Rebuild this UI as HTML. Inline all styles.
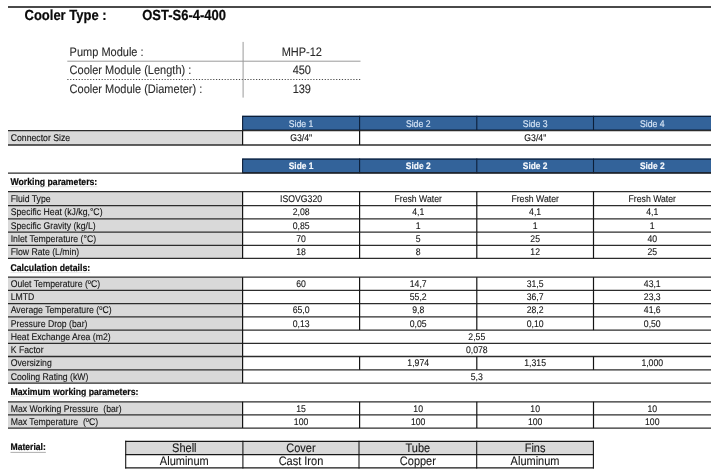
<!DOCTYPE html>
<html><head><meta charset="utf-8"><title>Cooler Type OST-S6-4-400</title>
<style>
html,body{margin:0;padding:0;background:#fff;}
body{width:720px;height:473px;overflow:hidden;font-family:"Liberation Sans", sans-serif;}
svg{display:block;font-family:"Liberation Sans", sans-serif;filter:blur(0.3px);}
text{white-space:pre;text-rendering:geometricPrecision;}
</style></head>
<body>
<svg width="720" height="473" viewBox="0 0 720 473">
<rect x="8.00" y="6.00" width="703.00" height="2.00" fill="#4a4a4a"/>
<text transform="translate(24.50 19.60) scale(1 1.12)" font-size="13" font-weight="bold" fill="#0a0a0a" stroke="#0a0a0a" stroke-width="0.2">Cooler Type :</text>
<text transform="translate(142.20 19.60) scale(1 1.12)" font-size="13" font-weight="bold" fill="#0a0a0a" stroke="#0a0a0a" stroke-width="0.2">OST-S6-4-400</text>
<text transform="translate(69.60 55.80) scale(1 1.12)" font-size="11" fill="#2a2a2a" stroke="#2a2a2a" stroke-width="0.1">Pump Module :</text>
<text transform="translate(69.60 74.20) scale(1 1.12)" font-size="11" fill="#2a2a2a" stroke="#2a2a2a" stroke-width="0.1">Cooler Module (Length) :</text>
<text transform="translate(69.60 92.60) scale(1 1.12)" font-size="11" fill="#2a2a2a" stroke="#2a2a2a" stroke-width="0.1">Cooler Module (Diameter) :</text>
<text transform="translate(301.80 55.80) scale(1 1.12)" font-size="11" text-anchor="middle" fill="#2a2a2a" stroke="#2a2a2a" stroke-width="0.1">MHP-12</text>
<text transform="translate(301.80 74.20) scale(1 1.12)" font-size="11" text-anchor="middle" fill="#2a2a2a" stroke="#2a2a2a" stroke-width="0.1">450</text>
<text transform="translate(301.80 92.60) scale(1 1.12)" font-size="11" text-anchor="middle" fill="#2a2a2a" stroke="#2a2a2a" stroke-width="0.1">139</text>
<line x1="67.30" y1="61.20" x2="360.50" y2="61.20" stroke="#9a9a9a" stroke-width="1" />
<line x1="67.30" y1="79.50" x2="360.50" y2="79.50" stroke="#4a4a4a" stroke-width="1" stroke-dasharray="1.2 1.66"/>
<line x1="243.10" y1="41.90" x2="243.10" y2="97.60" stroke="#9a9a9a" stroke-width="1" />
<rect x="242.60" y="115.80" width="468.40" height="14.80" fill="#33639a"/>
<line x1="242.60" y1="116.40" x2="711.00" y2="116.40" stroke="#0c1e38" stroke-width="1.2" />
<line x1="242.60" y1="130.00" x2="711.00" y2="130.00" stroke="#0c1e38" stroke-width="1.2" />
<line x1="242.60" y1="115.80" x2="242.60" y2="130.60" stroke="#0c1e38" stroke-width="1.1" />
<line x1="359.60" y1="115.80" x2="359.60" y2="130.60" stroke="#0c1e38" stroke-width="1.1" />
<line x1="476.80" y1="115.80" x2="476.80" y2="130.60" stroke="#0c1e38" stroke-width="1.1" />
<line x1="593.50" y1="115.80" x2="593.50" y2="130.60" stroke="#0c1e38" stroke-width="1.1" />
<text transform="translate(301.10 126.50) scale(1 1.12)" font-size="8.7" text-anchor="middle" fill="#d8e6f6" stroke="#d8e6f6" stroke-width="0.12">Side 1</text>
<text transform="translate(418.20 126.50) scale(1 1.12)" font-size="8.7" text-anchor="middle" fill="#d8e6f6" stroke="#d8e6f6" stroke-width="0.12">Side 2</text>
<text transform="translate(535.15 126.50) scale(1 1.12)" font-size="8.7" text-anchor="middle" fill="#d8e6f6" stroke="#d8e6f6" stroke-width="0.12">Side 3</text>
<text transform="translate(652.25 126.50) scale(1 1.12)" font-size="8.7" text-anchor="middle" fill="#d8e6f6" stroke="#d8e6f6" stroke-width="0.12">Side 4</text>
<rect x="8.00" y="130.60" width="234.60" height="14.40" fill="#d9d9d9"/>
<line x1="8.00" y1="130.60" x2="711.00" y2="130.60" stroke="#2c2c2c" stroke-width="1.3" />
<line x1="8.00" y1="145.00" x2="711.00" y2="145.00" stroke="#2c2c2c" stroke-width="1.3" />
<line x1="242.60" y1="130.60" x2="242.60" y2="145.00" stroke="#141414" stroke-width="1.2" />
<line x1="359.60" y1="130.60" x2="359.60" y2="145.00" stroke="#141414" stroke-width="1.2" />
<text transform="translate(10.70 141.00) scale(1 1.12)" font-size="8.7" fill="#111" stroke="#111" stroke-width="0.1">Connector Size</text>
<text transform="translate(301.10 141.00) scale(1 1.12)" font-size="8.7" text-anchor="middle" fill="#111" stroke="#111" stroke-width="0.1">G3/4"</text>
<text transform="translate(535.30 141.00) scale(1 1.12)" font-size="8.7" text-anchor="middle" fill="#111" stroke="#111" stroke-width="0.1">G3/4"</text>
<rect x="242.60" y="158.60" width="468.40" height="14.70" fill="#33639a"/>
<line x1="242.60" y1="159.20" x2="711.00" y2="159.20" stroke="#0c1e38" stroke-width="1.2" />
<line x1="242.60" y1="172.70" x2="711.00" y2="172.70" stroke="#0c1e38" stroke-width="1.2" />
<line x1="242.60" y1="158.60" x2="242.60" y2="173.30" stroke="#0c1e38" stroke-width="1.1" />
<line x1="359.60" y1="158.60" x2="359.60" y2="173.30" stroke="#0c1e38" stroke-width="1.1" />
<line x1="476.80" y1="158.60" x2="476.80" y2="173.30" stroke="#0c1e38" stroke-width="1.1" />
<line x1="593.50" y1="158.60" x2="593.50" y2="173.30" stroke="#0c1e38" stroke-width="1.1" />
<text transform="translate(301.10 169.00) scale(1 1.12)" font-size="8.4" text-anchor="middle" font-weight="bold" fill="#f6f9fd" stroke="#f6f9fd" stroke-width="0.15">Side 1</text>
<text transform="translate(418.20 169.00) scale(1 1.12)" font-size="8.4" text-anchor="middle" font-weight="bold" fill="#f6f9fd" stroke="#f6f9fd" stroke-width="0.15">Side 2</text>
<text transform="translate(535.15 169.00) scale(1 1.12)" font-size="8.4" text-anchor="middle" font-weight="bold" fill="#f6f9fd" stroke="#f6f9fd" stroke-width="0.15">Side 2</text>
<text transform="translate(652.25 169.00) scale(1 1.12)" font-size="8.4" text-anchor="middle" font-weight="bold" fill="#f6f9fd" stroke="#f6f9fd" stroke-width="0.15">Side 2</text>
<text transform="translate(10.50 184.90) scale(1 1.12)" font-size="8.7" font-weight="bold" fill="#0a0a0a" stroke="#0a0a0a" stroke-width="0.18">Working parameters:</text>
<line x1="10.50" y1="186.70" x2="97.37" y2="186.70" stroke="#d4d4d4" stroke-width="0.6" />
<rect x="8.00" y="191.60" width="234.60" height="14.00" fill="#d9d9d9"/>
<text transform="translate(10.70 201.70) scale(1 1.12)" font-size="8.7" fill="#151515" stroke="#151515" stroke-width="0.1">Fluid Type</text>
<text transform="translate(301.10 201.70) scale(1 1.12)" font-size="8.7" text-anchor="middle" fill="#151515" stroke="#151515" stroke-width="0.1">ISOVG320</text>
<text transform="translate(418.20 201.70) scale(1 1.12)" font-size="8.7" text-anchor="middle" fill="#151515" stroke="#151515" stroke-width="0.1">Fresh Water</text>
<text transform="translate(535.15 201.70) scale(1 1.12)" font-size="8.7" text-anchor="middle" fill="#151515" stroke="#151515" stroke-width="0.1">Fresh Water</text>
<text transform="translate(652.25 201.70) scale(1 1.12)" font-size="8.7" text-anchor="middle" fill="#151515" stroke="#151515" stroke-width="0.1">Fresh Water</text>
<rect x="8.00" y="205.60" width="234.60" height="13.20" fill="#d9d9d9"/>
<text transform="translate(10.70 215.30) scale(1 1.12)" font-size="8.7" fill="#151515" stroke="#151515" stroke-width="0.1">Specific Heat (kJ/kg,°C)</text>
<text transform="translate(301.10 215.30) scale(1 1.12)" font-size="8.7" text-anchor="middle" fill="#151515" stroke="#151515" stroke-width="0.1">2,08</text>
<text transform="translate(418.20 215.30) scale(1 1.12)" font-size="8.7" text-anchor="middle" fill="#151515" stroke="#151515" stroke-width="0.1">4,1</text>
<text transform="translate(535.15 215.30) scale(1 1.12)" font-size="8.7" text-anchor="middle" fill="#151515" stroke="#151515" stroke-width="0.1">4,1</text>
<text transform="translate(652.25 215.30) scale(1 1.12)" font-size="8.7" text-anchor="middle" fill="#151515" stroke="#151515" stroke-width="0.1">4,1</text>
<rect x="8.00" y="218.80" width="234.60" height="13.40" fill="#d9d9d9"/>
<text transform="translate(10.70 228.50) scale(1 1.12)" font-size="8.7" fill="#151515" stroke="#151515" stroke-width="0.1">Specific Gravity (kg/L)</text>
<text transform="translate(301.10 228.50) scale(1 1.12)" font-size="8.7" text-anchor="middle" fill="#151515" stroke="#151515" stroke-width="0.1">0,85</text>
<text transform="translate(418.20 228.50) scale(1 1.12)" font-size="8.7" text-anchor="middle" fill="#151515" stroke="#151515" stroke-width="0.1">1</text>
<text transform="translate(535.15 228.50) scale(1 1.12)" font-size="8.7" text-anchor="middle" fill="#151515" stroke="#151515" stroke-width="0.1">1</text>
<text transform="translate(652.25 228.50) scale(1 1.12)" font-size="8.7" text-anchor="middle" fill="#151515" stroke="#151515" stroke-width="0.1">1</text>
<rect x="8.00" y="232.20" width="234.60" height="13.10" fill="#d9d9d9"/>
<text transform="translate(10.70 241.90) scale(1 1.12)" font-size="8.7" fill="#151515" stroke="#151515" stroke-width="0.1">Inlet Temperature (°C)</text>
<text transform="translate(301.10 241.90) scale(1 1.12)" font-size="8.7" text-anchor="middle" fill="#151515" stroke="#151515" stroke-width="0.1">70</text>
<text transform="translate(418.20 241.90) scale(1 1.12)" font-size="8.7" text-anchor="middle" fill="#151515" stroke="#151515" stroke-width="0.1">5</text>
<text transform="translate(535.15 241.90) scale(1 1.12)" font-size="8.7" text-anchor="middle" fill="#151515" stroke="#151515" stroke-width="0.1">25</text>
<text transform="translate(652.25 241.90) scale(1 1.12)" font-size="8.7" text-anchor="middle" fill="#151515" stroke="#151515" stroke-width="0.1">40</text>
<rect x="8.00" y="245.30" width="234.60" height="13.10" fill="#d9d9d9"/>
<text transform="translate(10.70 255.00) scale(1 1.12)" font-size="8.7" fill="#151515" stroke="#151515" stroke-width="0.1">Flow Rate (L/min)</text>
<text transform="translate(301.10 255.00) scale(1 1.12)" font-size="8.7" text-anchor="middle" fill="#151515" stroke="#151515" stroke-width="0.1">18</text>
<text transform="translate(418.20 255.00) scale(1 1.12)" font-size="8.7" text-anchor="middle" fill="#151515" stroke="#151515" stroke-width="0.1">8</text>
<text transform="translate(535.15 255.00) scale(1 1.12)" font-size="8.7" text-anchor="middle" fill="#151515" stroke="#151515" stroke-width="0.1">12</text>
<text transform="translate(652.25 255.00) scale(1 1.12)" font-size="8.7" text-anchor="middle" fill="#151515" stroke="#151515" stroke-width="0.1">25</text>
<text transform="translate(10.50 270.80) scale(1 1.12)" font-size="8.7" font-weight="bold" fill="#0a0a0a" stroke="#0a0a0a" stroke-width="0.18">Calculation details:</text>
<line x1="10.50" y1="272.60" x2="90.27" y2="272.60" stroke="#d4d4d4" stroke-width="0.6" />
<rect x="8.00" y="277.20" width="234.60" height="13.10" fill="#d9d9d9"/>
<text transform="translate(10.70 286.90) scale(1 1.12)" font-size="8.7" fill="#151515" stroke="#151515" stroke-width="0.1">Oulet Temperature (ºC)</text>
<text transform="translate(301.10 286.90) scale(1 1.12)" font-size="8.7" text-anchor="middle" fill="#151515" stroke="#151515" stroke-width="0.1">60</text>
<text transform="translate(418.20 286.90) scale(1 1.12)" font-size="8.7" text-anchor="middle" fill="#151515" stroke="#151515" stroke-width="0.1">14,7</text>
<text transform="translate(535.15 286.90) scale(1 1.12)" font-size="8.7" text-anchor="middle" fill="#151515" stroke="#151515" stroke-width="0.1">31,5</text>
<text transform="translate(652.25 286.90) scale(1 1.12)" font-size="8.7" text-anchor="middle" fill="#151515" stroke="#151515" stroke-width="0.1">43,1</text>
<rect x="8.00" y="290.30" width="234.60" height="13.30" fill="#d9d9d9"/>
<text transform="translate(10.70 300.00) scale(1 1.12)" font-size="8.7" fill="#151515" stroke="#151515" stroke-width="0.1">LMTD</text>
<text transform="translate(418.20 300.00) scale(1 1.12)" font-size="8.7" text-anchor="middle" fill="#151515" stroke="#151515" stroke-width="0.1">55,2</text>
<text transform="translate(535.15 300.00) scale(1 1.12)" font-size="8.7" text-anchor="middle" fill="#151515" stroke="#151515" stroke-width="0.1">36,7</text>
<text transform="translate(652.25 300.00) scale(1 1.12)" font-size="8.7" text-anchor="middle" fill="#151515" stroke="#151515" stroke-width="0.1">23,3</text>
<rect x="8.00" y="303.60" width="234.60" height="13.30" fill="#d9d9d9"/>
<text transform="translate(10.70 313.30) scale(1 1.12)" font-size="8.7" fill="#151515" stroke="#151515" stroke-width="0.1">Average Temperature (ºC)</text>
<text transform="translate(301.10 313.30) scale(1 1.12)" font-size="8.7" text-anchor="middle" fill="#151515" stroke="#151515" stroke-width="0.1">65,0</text>
<text transform="translate(418.20 313.30) scale(1 1.12)" font-size="8.7" text-anchor="middle" fill="#151515" stroke="#151515" stroke-width="0.1">9,8</text>
<text transform="translate(535.15 313.30) scale(1 1.12)" font-size="8.7" text-anchor="middle" fill="#151515" stroke="#151515" stroke-width="0.1">28,2</text>
<text transform="translate(652.25 313.30) scale(1 1.12)" font-size="8.7" text-anchor="middle" fill="#151515" stroke="#151515" stroke-width="0.1">41,6</text>
<rect x="8.00" y="316.90" width="234.60" height="13.20" fill="#d9d9d9"/>
<text transform="translate(10.70 326.60) scale(1 1.12)" font-size="8.7" fill="#151515" stroke="#151515" stroke-width="0.1">Pressure Drop (bar)</text>
<text transform="translate(301.10 326.60) scale(1 1.12)" font-size="8.7" text-anchor="middle" fill="#151515" stroke="#151515" stroke-width="0.1">0,13</text>
<text transform="translate(418.20 326.60) scale(1 1.12)" font-size="8.7" text-anchor="middle" fill="#151515" stroke="#151515" stroke-width="0.1">0,05</text>
<text transform="translate(535.15 326.60) scale(1 1.12)" font-size="8.7" text-anchor="middle" fill="#151515" stroke="#151515" stroke-width="0.1">0,10</text>
<text transform="translate(652.25 326.60) scale(1 1.12)" font-size="8.7" text-anchor="middle" fill="#151515" stroke="#151515" stroke-width="0.1">0,50</text>
<rect x="8.00" y="330.10" width="234.60" height="13.30" fill="#d9d9d9"/>
<text transform="translate(10.70 339.80) scale(1 1.12)" font-size="8.7" fill="#151515" stroke="#151515" stroke-width="0.1">Heat Exchange Area (m2)</text>
<text transform="translate(476.80 339.80) scale(1 1.12)" font-size="8.7" text-anchor="middle" fill="#151515" stroke="#151515" stroke-width="0.1">2,55</text>
<rect x="8.00" y="343.40" width="234.60" height="13.10" fill="#d9d9d9"/>
<text transform="translate(10.70 353.10) scale(1 1.12)" font-size="8.7" fill="#151515" stroke="#151515" stroke-width="0.1">K Factor</text>
<text transform="translate(476.80 353.10) scale(1 1.12)" font-size="8.7" text-anchor="middle" fill="#151515" stroke="#151515" stroke-width="0.1">0,078</text>
<rect x="8.00" y="356.50" width="234.60" height="13.30" fill="#d9d9d9"/>
<text transform="translate(10.70 366.20) scale(1 1.12)" font-size="8.7" fill="#151515" stroke="#151515" stroke-width="0.1">Oversizing</text>
<text transform="translate(418.20 366.20) scale(1 1.12)" font-size="8.7" text-anchor="middle" fill="#151515" stroke="#151515" stroke-width="0.1">1,974</text>
<text transform="translate(535.15 366.20) scale(1 1.12)" font-size="8.7" text-anchor="middle" fill="#151515" stroke="#151515" stroke-width="0.1">1,315</text>
<text transform="translate(652.25 366.20) scale(1 1.12)" font-size="8.7" text-anchor="middle" fill="#151515" stroke="#151515" stroke-width="0.1">1,000</text>
<rect x="8.00" y="369.80" width="234.60" height="13.30" fill="#d9d9d9"/>
<text transform="translate(10.70 379.50) scale(1 1.12)" font-size="8.7" fill="#151515" stroke="#151515" stroke-width="0.1">Cooling Rating (kW)</text>
<text transform="translate(476.80 379.50) scale(1 1.12)" font-size="8.7" text-anchor="middle" fill="#151515" stroke="#151515" stroke-width="0.1">5,3</text>
<text transform="translate(10.50 394.80) scale(1 1.12)" font-size="8.7" font-weight="bold" fill="#0a0a0a" stroke="#0a0a0a" stroke-width="0.18">Maximum working parameters:</text>
<line x1="10.50" y1="396.60" x2="138.62" y2="396.60" stroke="#d4d4d4" stroke-width="0.6" />
<rect x="8.00" y="401.80" width="234.60" height="13.00" fill="#d9d9d9"/>
<text transform="translate(10.70 411.50) scale(1 1.12)" font-size="8.7" fill="#151515" stroke="#151515" stroke-width="0.1">Max Working Pressure  (bar)</text>
<text transform="translate(301.10 411.50) scale(1 1.12)" font-size="8.7" text-anchor="middle" fill="#151515" stroke="#151515" stroke-width="0.1">15</text>
<text transform="translate(418.20 411.50) scale(1 1.12)" font-size="8.7" text-anchor="middle" fill="#151515" stroke="#151515" stroke-width="0.1">10</text>
<text transform="translate(535.15 411.50) scale(1 1.12)" font-size="8.7" text-anchor="middle" fill="#151515" stroke="#151515" stroke-width="0.1">10</text>
<text transform="translate(652.25 411.50) scale(1 1.12)" font-size="8.7" text-anchor="middle" fill="#151515" stroke="#151515" stroke-width="0.1">10</text>
<rect x="8.00" y="414.80" width="234.60" height="13.30" fill="#d9d9d9"/>
<text transform="translate(10.70 424.50) scale(1 1.12)" font-size="8.7" fill="#151515" stroke="#151515" stroke-width="0.1">Max Temperature  (ºC)</text>
<text transform="translate(301.10 424.50) scale(1 1.12)" font-size="8.7" text-anchor="middle" fill="#151515" stroke="#151515" stroke-width="0.1">100</text>
<text transform="translate(418.20 424.50) scale(1 1.12)" font-size="8.7" text-anchor="middle" fill="#151515" stroke="#151515" stroke-width="0.1">100</text>
<text transform="translate(535.15 424.50) scale(1 1.12)" font-size="8.7" text-anchor="middle" fill="#151515" stroke="#151515" stroke-width="0.1">100</text>
<text transform="translate(652.25 424.50) scale(1 1.12)" font-size="8.7" text-anchor="middle" fill="#151515" stroke="#151515" stroke-width="0.1">100</text>
<line x1="8.00" y1="173.20" x2="711.00" y2="173.20" stroke="#2c2c2c" stroke-width="1.3" />
<line x1="8.00" y1="191.60" x2="711.00" y2="191.60" stroke="#2c2c2c" stroke-width="1.3" />
<line x1="8.00" y1="205.60" x2="711.00" y2="205.60" stroke="#2c2c2c" stroke-width="1.3" />
<line x1="8.00" y1="218.80" x2="711.00" y2="218.80" stroke="#2c2c2c" stroke-width="1.3" />
<line x1="8.00" y1="232.20" x2="711.00" y2="232.20" stroke="#2c2c2c" stroke-width="1.3" />
<line x1="8.00" y1="245.30" x2="711.00" y2="245.30" stroke="#2c2c2c" stroke-width="1.3" />
<line x1="8.00" y1="258.40" x2="711.00" y2="258.40" stroke="#2c2c2c" stroke-width="1.3" />
<line x1="8.00" y1="277.20" x2="711.00" y2="277.20" stroke="#2c2c2c" stroke-width="1.3" />
<line x1="8.00" y1="290.30" x2="711.00" y2="290.30" stroke="#2c2c2c" stroke-width="1.3" />
<line x1="8.00" y1="303.60" x2="711.00" y2="303.60" stroke="#2c2c2c" stroke-width="1.3" />
<line x1="8.00" y1="316.90" x2="711.00" y2="316.90" stroke="#2c2c2c" stroke-width="1.3" />
<line x1="8.00" y1="330.10" x2="711.00" y2="330.10" stroke="#2c2c2c" stroke-width="1.3" />
<line x1="8.00" y1="343.40" x2="711.00" y2="343.40" stroke="#2c2c2c" stroke-width="1.3" />
<line x1="8.00" y1="356.50" x2="711.00" y2="356.50" stroke="#2c2c2c" stroke-width="1.3" />
<line x1="8.00" y1="369.80" x2="711.00" y2="369.80" stroke="#2c2c2c" stroke-width="1.3" />
<line x1="8.00" y1="383.10" x2="711.00" y2="383.10" stroke="#2c2c2c" stroke-width="1.3" />
<line x1="8.00" y1="401.80" x2="711.00" y2="401.80" stroke="#2c2c2c" stroke-width="1.3" />
<line x1="8.00" y1="414.80" x2="711.00" y2="414.80" stroke="#2c2c2c" stroke-width="1.3" />
<line x1="8.00" y1="428.10" x2="711.00" y2="428.10" stroke="#2c2c2c" stroke-width="1.3" />
<line x1="242.60" y1="191.60" x2="242.60" y2="205.60" stroke="#141414" stroke-width="1.2" />
<line x1="359.60" y1="191.60" x2="359.60" y2="205.60" stroke="#141414" stroke-width="1.2" />
<line x1="476.80" y1="191.60" x2="476.80" y2="205.60" stroke="#141414" stroke-width="1.2" />
<line x1="593.50" y1="191.60" x2="593.50" y2="205.60" stroke="#141414" stroke-width="1.2" />
<line x1="242.60" y1="205.60" x2="242.60" y2="218.80" stroke="#141414" stroke-width="1.2" />
<line x1="359.60" y1="205.60" x2="359.60" y2="218.80" stroke="#141414" stroke-width="1.2" />
<line x1="476.80" y1="205.60" x2="476.80" y2="218.80" stroke="#141414" stroke-width="1.2" />
<line x1="593.50" y1="205.60" x2="593.50" y2="218.80" stroke="#141414" stroke-width="1.2" />
<line x1="242.60" y1="218.80" x2="242.60" y2="232.20" stroke="#141414" stroke-width="1.2" />
<line x1="359.60" y1="218.80" x2="359.60" y2="232.20" stroke="#141414" stroke-width="1.2" />
<line x1="476.80" y1="218.80" x2="476.80" y2="232.20" stroke="#141414" stroke-width="1.2" />
<line x1="593.50" y1="218.80" x2="593.50" y2="232.20" stroke="#141414" stroke-width="1.2" />
<line x1="242.60" y1="232.20" x2="242.60" y2="245.30" stroke="#141414" stroke-width="1.2" />
<line x1="359.60" y1="232.20" x2="359.60" y2="245.30" stroke="#141414" stroke-width="1.2" />
<line x1="476.80" y1="232.20" x2="476.80" y2="245.30" stroke="#141414" stroke-width="1.2" />
<line x1="593.50" y1="232.20" x2="593.50" y2="245.30" stroke="#141414" stroke-width="1.2" />
<line x1="242.60" y1="245.30" x2="242.60" y2="258.40" stroke="#141414" stroke-width="1.2" />
<line x1="359.60" y1="245.30" x2="359.60" y2="258.40" stroke="#141414" stroke-width="1.2" />
<line x1="476.80" y1="245.30" x2="476.80" y2="258.40" stroke="#141414" stroke-width="1.2" />
<line x1="593.50" y1="245.30" x2="593.50" y2="258.40" stroke="#141414" stroke-width="1.2" />
<line x1="242.60" y1="277.20" x2="242.60" y2="290.30" stroke="#141414" stroke-width="1.2" />
<line x1="359.60" y1="277.20" x2="359.60" y2="290.30" stroke="#141414" stroke-width="1.2" />
<line x1="476.80" y1="277.20" x2="476.80" y2="290.30" stroke="#141414" stroke-width="1.2" />
<line x1="593.50" y1="277.20" x2="593.50" y2="290.30" stroke="#141414" stroke-width="1.2" />
<line x1="242.60" y1="290.30" x2="242.60" y2="303.60" stroke="#141414" stroke-width="1.2" />
<line x1="359.60" y1="290.30" x2="359.60" y2="303.60" stroke="#141414" stroke-width="1.2" />
<line x1="476.80" y1="290.30" x2="476.80" y2="303.60" stroke="#141414" stroke-width="1.2" />
<line x1="593.50" y1="290.30" x2="593.50" y2="303.60" stroke="#141414" stroke-width="1.2" />
<line x1="242.60" y1="303.60" x2="242.60" y2="316.90" stroke="#141414" stroke-width="1.2" />
<line x1="359.60" y1="303.60" x2="359.60" y2="316.90" stroke="#141414" stroke-width="1.2" />
<line x1="476.80" y1="303.60" x2="476.80" y2="316.90" stroke="#141414" stroke-width="1.2" />
<line x1="593.50" y1="303.60" x2="593.50" y2="316.90" stroke="#141414" stroke-width="1.2" />
<line x1="242.60" y1="316.90" x2="242.60" y2="330.10" stroke="#141414" stroke-width="1.2" />
<line x1="359.60" y1="316.90" x2="359.60" y2="330.10" stroke="#141414" stroke-width="1.2" />
<line x1="476.80" y1="316.90" x2="476.80" y2="330.10" stroke="#141414" stroke-width="1.2" />
<line x1="593.50" y1="316.90" x2="593.50" y2="330.10" stroke="#141414" stroke-width="1.2" />
<line x1="242.60" y1="330.10" x2="242.60" y2="343.40" stroke="#141414" stroke-width="1.2" />
<line x1="242.60" y1="343.40" x2="242.60" y2="356.50" stroke="#141414" stroke-width="1.2" />
<line x1="242.60" y1="356.50" x2="242.60" y2="369.80" stroke="#141414" stroke-width="1.2" />
<line x1="359.60" y1="356.50" x2="359.60" y2="369.80" stroke="#141414" stroke-width="1.2" />
<line x1="476.80" y1="356.50" x2="476.80" y2="369.80" stroke="#141414" stroke-width="1.2" />
<line x1="593.50" y1="356.50" x2="593.50" y2="369.80" stroke="#141414" stroke-width="1.2" />
<line x1="242.60" y1="369.80" x2="242.60" y2="383.10" stroke="#141414" stroke-width="1.2" />
<line x1="242.60" y1="401.80" x2="242.60" y2="414.80" stroke="#141414" stroke-width="1.2" />
<line x1="359.60" y1="401.80" x2="359.60" y2="414.80" stroke="#141414" stroke-width="1.2" />
<line x1="476.80" y1="401.80" x2="476.80" y2="414.80" stroke="#141414" stroke-width="1.2" />
<line x1="593.50" y1="401.80" x2="593.50" y2="414.80" stroke="#141414" stroke-width="1.2" />
<line x1="242.60" y1="414.80" x2="242.60" y2="428.10" stroke="#141414" stroke-width="1.2" />
<line x1="359.60" y1="414.80" x2="359.60" y2="428.10" stroke="#141414" stroke-width="1.2" />
<line x1="476.80" y1="414.80" x2="476.80" y2="428.10" stroke="#141414" stroke-width="1.2" />
<line x1="593.50" y1="414.80" x2="593.50" y2="428.10" stroke="#141414" stroke-width="1.2" />
<text transform="translate(10.50 450.40) scale(1 1.12)" font-size="8.6" font-weight="bold" fill="#0a0a0a" stroke="#0a0a0a" stroke-width="0.18">Material:</text>
<line x1="10.50" y1="452.40" x2="45.87" y2="452.40" stroke="#777" stroke-width="0.6" />
<rect x="125.70" y="441.40" width="467.70" height="13.30" fill="#d9d9d9"/>
<line x1="125.20" y1="441.40" x2="593.90" y2="441.40" stroke="#181818" stroke-width="1.2" />
<line x1="125.20" y1="454.70" x2="593.90" y2="454.70" stroke="#181818" stroke-width="1.2" />
<line x1="125.20" y1="467.80" x2="593.90" y2="467.80" stroke="#181818" stroke-width="1.2" />
<line x1="125.70" y1="440.80" x2="125.70" y2="468.40" stroke="#181818" stroke-width="1.1" />
<line x1="242.90" y1="440.80" x2="242.90" y2="468.40" stroke="#181818" stroke-width="1.1" />
<line x1="359.00" y1="440.80" x2="359.00" y2="468.40" stroke="#181818" stroke-width="1.1" />
<line x1="476.70" y1="440.80" x2="476.70" y2="468.40" stroke="#181818" stroke-width="1.1" />
<line x1="593.40" y1="440.80" x2="593.40" y2="468.40" stroke="#181818" stroke-width="1.1" />
<text transform="translate(184.30 451.90) scale(1 1.12)" font-size="11" text-anchor="middle" fill="#151515" stroke="#151515" stroke-width="0.1">Shell</text>
<text transform="translate(184.30 465.00) scale(1 1.12)" font-size="11" text-anchor="middle" fill="#151515" stroke="#151515" stroke-width="0.1">Aluminum</text>
<text transform="translate(300.95 451.90) scale(1 1.12)" font-size="11" text-anchor="middle" fill="#151515" stroke="#151515" stroke-width="0.1">Cover</text>
<text transform="translate(300.95 465.00) scale(1 1.12)" font-size="11" text-anchor="middle" fill="#151515" stroke="#151515" stroke-width="0.1">Cast Iron</text>
<text transform="translate(417.85 451.90) scale(1 1.12)" font-size="11" text-anchor="middle" fill="#151515" stroke="#151515" stroke-width="0.1">Tube</text>
<text transform="translate(417.85 465.00) scale(1 1.12)" font-size="11" text-anchor="middle" fill="#151515" stroke="#151515" stroke-width="0.1">Copper</text>
<text transform="translate(535.05 451.90) scale(1 1.12)" font-size="11" text-anchor="middle" fill="#151515" stroke="#151515" stroke-width="0.1">Fins</text>
<text transform="translate(535.05 465.00) scale(1 1.12)" font-size="11" text-anchor="middle" fill="#151515" stroke="#151515" stroke-width="0.1">Aluminum</text>
</svg>
</body></html>
